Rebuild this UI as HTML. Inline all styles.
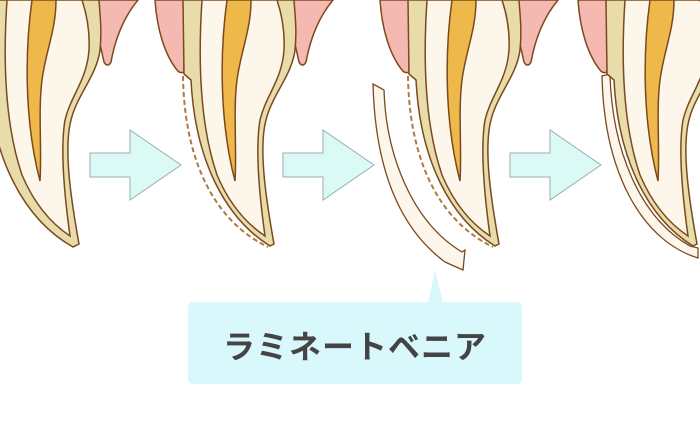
<!DOCTYPE html>
<html><head><meta charset="utf-8"><style>
html,body{margin:0;padding:0;background:#fff;width:700px;height:440px;overflow:hidden}
svg{display:block}
</style></head><body>
<svg width="700" height="440" viewBox="0 0 700 440" xmlns="http://www.w3.org/2000/svg">
<defs>
<g id="gums">
  <path d="M-40,0 C-38,30 -30,55 -18,70 C-16,73 -13,73 -11,72 L-10,0 Z" fill="#f5b9b2" stroke="#7a4a1e" stroke-width="1.5"/>
  <path d="M88,0 C96,25 101,48 104,62 C106,66 109,66 111,62 C115,40 123,18 138,0 Z" fill="#f5b9b2" stroke="#7a4a1e" stroke-width="1.5"/>
</g>
<g id="inner">
  <path d="M7,0 C3,60 5,125 22,175 C36,208 55,226 70,236 C65,200 60,150 65,120 C71,95 87,80 89,50 C90,30 86,12 82,0 Z" fill="#fdf6ea" stroke="#7a4a1e" stroke-width="1.5"/>
  <path d="M32,0 C25,50 24,120 40,181 C42,150 38,110 42,80 C46,50 56,30 56,0 Z" fill="#efb84a" stroke="#7a4a1e" stroke-width="1.5"/>
</g>
<g id="toothFull">
  <use href="#gums"/>
  <path d="M-14,0 L-12,78 C-8,160 25,220 73,247 L79,244 C72,205 63,150 71,120 C77,95 97,75 100,50 C102,30 100,15 99,0 Z" fill="#e8dcaa" stroke="#7a4a1e" stroke-width="1.5"/>
  <use href="#inner"/>
</g>
<g id="toothPrep">
  <use href="#gums"/>
  <path d="M-12,0 L-11,74 L-4,80 C0,160 30,218 75,246 L79,244 C72,205 63,150 71,120 C77,95 97,75 100,50 C102,30 100,15 99,0 Z" fill="#e8dcaa" stroke="#7a4a1e" stroke-width="1.5"/>
  <use href="#inner"/>
</g>
<g id="arrow">
  <path d="M0,23 L40,23 L40,0 L91,35 L40,70 L40,47 L0,47 Z" fill="#dcfaf5" stroke="#9aaeb0" stroke-width="1"/>
</g>
</defs>

<use href="#toothFull" x="0" y="0"/>
<use href="#toothPrep" x="195" y="0"/>
<use href="#toothPrep" x="420" y="0"/>

<path d="M602,76 L610,74 C612,150 640,218 690,246 L698,248 L698,258 C640,240 604,170 602,76 Z" fill="#fdf6ea" stroke="#7a4a1e" stroke-width="1.3"/>
<use href="#toothPrep" x="618" y="0"/>

<path d="M183,76 C184,150 208,218 268,247" fill="none" stroke="#b07840" stroke-width="2" stroke-dasharray="5,3"/>
<path d="M408,76 C409,150 433,218 493,247" fill="none" stroke="#b07840" stroke-width="2" stroke-dasharray="5,3"/>

<path d="M373,84 L384,90 C386,155 412,222 462,252 L465,250 L463,270 L445,262 C395,225 375,160 373,84 Z" fill="#fdf6ea" stroke="#7a4a1e" stroke-width="1.3"/>

<use href="#arrow" x="90" y="130"/>
<use href="#arrow" x="283" y="130"/>
<use href="#arrow" x="510" y="130"/>

<path d="M428,303 L435,270 L443,303 Z" fill="#d8f8fb"/>
<rect x="188" y="302" width="334" height="82" rx="5" fill="#d8f8fb"/>
<text x="355" y="358" text-anchor="middle" font-family="'Liberation Sans','Noto Sans CJK JP',sans-serif" font-weight="bold" font-size="32" fill="#444" letter-spacing="1">ラミネートベニア</text>
</svg>
</body></html>
